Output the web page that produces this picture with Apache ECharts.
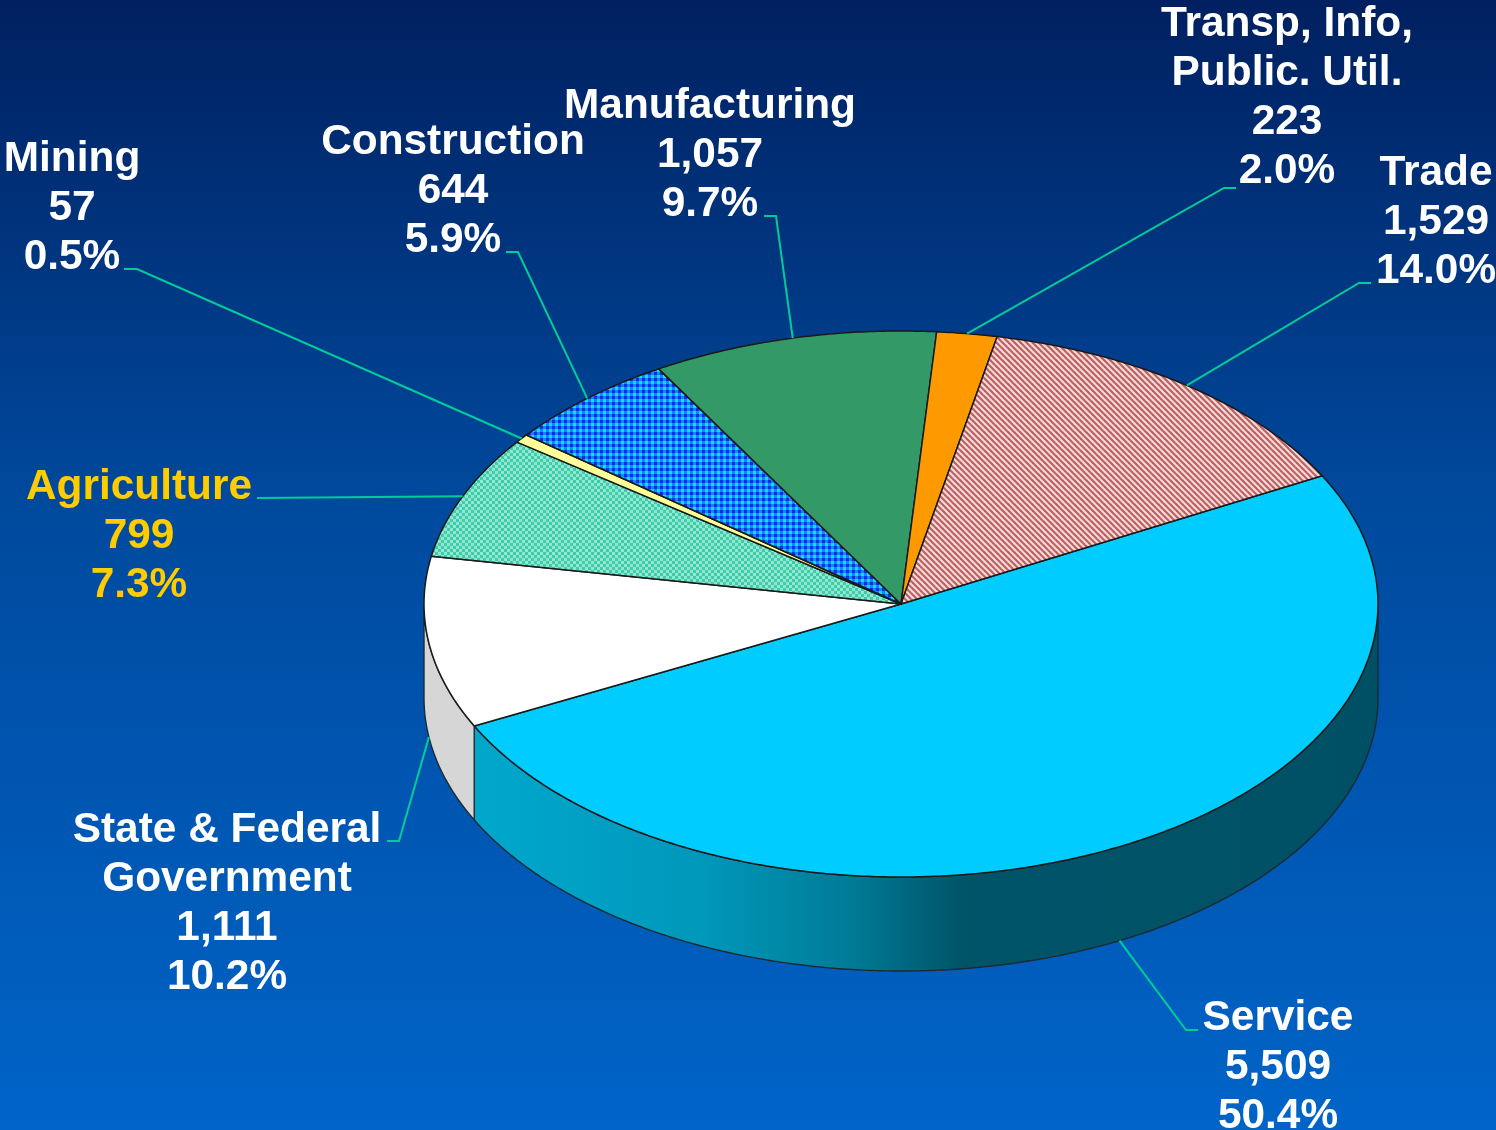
<!DOCTYPE html>
<html><head><meta charset="utf-8">
<style>html,body{margin:0;padding:0;width:1496px;height:1130px;overflow:hidden}#c{width:1496px;height:1130px}</style>
<script src="https://cdn.jsdelivr.net/npm/echarts@6/dist/echarts.min.js"></script>
</head><body><div id="c"></div>
<script>
// ---- data ----
const categories = ['Service','State & Federal\nGovernment','Agriculture','Mining','Construction','Manufacturing','Transp, Info,\nPublic. Util.','Trade'];
const values = [5509,1111,799,57,644,1057,223,1529];
const shares = ['50.4%','10.2%','7.3%','0.5%','5.9%','9.7%','2.0%','14.0%'];

// ---- layout and style ----
const cx = 901, cy = 604, rx = 477, ry = 273, depth = 94, startDeg = 28;
const labelCenter = [[1278,1016],[227,828],[139,485],[72,157],[453,140],[710,104],[1287,22],[1436,171]];
const leaderPts = [
  [[1198,1030],[1186,1030]],
  [[387,841],[399,841]],
  [[257,498]],
  [[124,269],[137,269]],
  [[506,252],[518,252]],
  [[764,216],[776,216]],
  [[1236,188],[1224,188]],
  [[1371,283],[1359,283]]
];
const labelColor = ['#fff','#fff','#ffcc00','#fff','#fff','#fff','#fff','#fff'];

function tile(w,h,draw){const c=document.createElement('canvas');c.width=w;c.height=h;draw(c.getContext('2d'));return {image:c,repeat:'repeat'};}
const hatch = tile(6,6,g=>{g.fillStyle='#f0dcdc';g.fillRect(0,0,6,6);g.strokeStyle='#bf6060';g.lineWidth=2.2;
  [[-1,-1,7,7],[-4,2,1,7],[2,-4,7,1]].forEach(l=>{g.beginPath();g.moveTo(l[0],l[1]);g.lineTo(l[2],l[3]);g.stroke();});});
const grid = tile(6,6,g=>{g.fillStyle='#14dcff';g.fillRect(0,0,6,6);g.fillStyle='#0c88ff';g.fillRect(0,0,6,3);g.fillRect(0,0,3,6);g.fillStyle='#0830e0';g.fillRect(0,0,3,3);});
const check = tile(6,6,g=>{g.fillStyle='#40cca8';g.fillRect(0,0,6,6);g.fillStyle='#90e8d2';g.fillRect(0,0,3,3);g.fillRect(3,3,3,3);});
const topFill = ['#00ccff','#ffffff',check,'#ffff99',grid,'#339966','#ff9900',hatch];
const wallFill = [
  {type:'linear',x:0,y:0,x2:1,y2:0,colorStops:[{offset:0,color:'#00a8cc'},{offset:0.25,color:'#0098bb'},{offset:0.42,color:'#007a96'},{offset:0.54,color:'#005468'},{offset:1,color:'#005065'}]},
  '#d6d6d6',null,null,null,null,null,null
];
const total = values.reduce((a,b)=>a+b,0);
const rad = d=>d*Math.PI/180;
function rim(deg,dz){return [cx+rx*Math.cos(rad(deg)), cy-ry*Math.sin(rad(deg))+(dz||0)];}
function arc(a,b,dz){const n=Math.max(2,Math.ceil(Math.abs(b-a)/0.5));const p=[];for(let i=0;i<=n;i++)p.push(rim(a+(b-a)*i/n,dz));return p;}

function renderItem(params,api){
  const i = params.dataIndex;
  let before = 0; for(let k=0;k<i;k++) before += values[k];
  const a = startDeg - before/total*360, b = a - api.value(0)/total*360, mid=(a+b)/2;
  const kids = [];
  if (wallFill[i]) {
    const w0 = Math.min(a,0), w1 = Math.max(b,-180);
    const pts = arc(w0,w1,0).concat(arc(w1,w0,depth));
    kids.push({type:'polygon',shape:{points:pts},style:{fill:wallFill[i],stroke:'#1c2a33',lineWidth:1.4}});
  }
  kids.push({type:'polygon',shape:{points:[[cx,cy]].concat(arc(a,b,0))},style:{fill:topFill[i],stroke:'#1a1a1a',lineWidth:1.5,lineJoin:'round'}});
  const anchor = rim(mid, Math.sin(rad(mid))<0 ? depth : 0);
  kids.push({type:'polyline',shape:{points:leaderPts[i].concat([anchor])},style:{fill:null,stroke:'#00cc99',lineWidth:2},z2:5});
  const lc = labelCenter[i];
  const txt = categories[i]+'\n'+api.value(0).toLocaleString('en-US')+'\n'+shares[i];
  kids.push({type:'text',x:lc[0],y:lc[1]-22.5,z2:6,style:{text:txt,align:'center',verticalAlign:'top',fill:labelColor[i],
    font:'bold 42.4px "Liberation Sans", Arial, sans-serif',lineHeight:49.2}});
  return {type:'group',children:kids};
}

const chart = echarts.init(document.getElementById('c'),null,{renderer:'canvas'});
chart.setOption({
  animation:false,
  backgroundColor:{type:'linear',x:0,y:0,x2:0,y2:1,colorStops:[{offset:0,color:'#002060'},{offset:0.45,color:'#004a9e'},{offset:1,color:'#0064c8'}]},
  series:[{type:'custom',coordinateSystem:'none',silent:true,renderItem:renderItem,
    data:values.map((v,i)=>({name:categories[i].replace('\n',' '),value:[v]}))}]
});
</script></body></html>
